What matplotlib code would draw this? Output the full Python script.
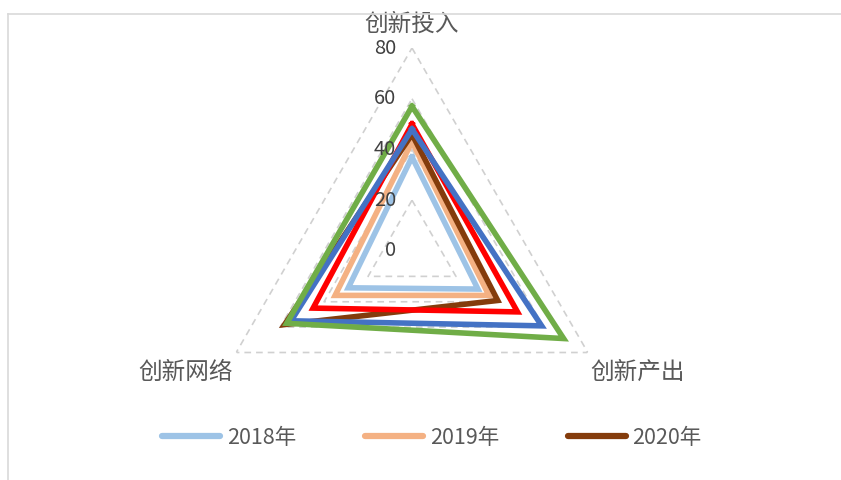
import numpy as np
import matplotlib.pyplot as plt
from matplotlib.lines import Line2D
from matplotlib import transforms

plt.rcParams['font.family'] = ['Noto Sans CJK SC', 'DejaVu Sans']

# 数据
categories = ['创新投入', '创新产出', '创新网络']
years = ['2018年', '2019年', '2020年', '2021年', '2022年', '2023年']
v2018 = [37, 30, 29]
v2019 = [43, 35, 35]
v2020 = [46, 39, 58]
v2021 = [50, 48, 45]
v2022 = [48, 59, 55]
v2023 = [57, 69, 57]
values = [v2018, v2019, v2020, v2021, v2022, v2023]
colors = ['#9DC3E6', '#F4B183', '#843C0C', '#FF0000', '#4472C4', '#70AD47']
grid_levels = [20, 40, 60, 80]
tick_levels = [0, 20, 40, 60, 80]

txt = '#595959'
W, H = 841, 480
fig = plt.figure(figsize=(W / 100, H / 100), dpi=100)

# 外框（被截掉一部分的图表区）
fig.add_artist(Line2D([8 / W, 1], [1 - 14 / H, 1 - 14 / H], color='#D9D9D9', lw=1.2))
fig.add_artist(Line2D([8 / W, 8 / W], [0, 1 - 14 / H], color='#D9D9D9', lw=1.2))

cx, cy, R = 412, 251, 203
ax = fig.add_axes([(cx - R) / W, (H - cy - R) / H, 2 * R / W, 2 * R / H], projection='polar')
ax.set_theta_offset(np.pi / 2)
ax.set_theta_direction(-1)
ax.set_ylim(0, 80)
ax.grid(False)
ax.spines['polar'].set_visible(False)
ax.set_xticks([])
ax.set_yticks([])
ax.patch.set_alpha(0)

angles = np.linspace(0, 2 * np.pi, len(categories), endpoint=False)
ang_closed = np.append(angles, angles[0])

# 网格三角形
for g in grid_levels:
    ax.plot(ang_closed, [g] * (len(categories) + 1), color='#D0D0D0', lw=1.2,
            ls=(0, (4, 3)), zorder=1)

# 数据线
for name, vals, c in zip(years, values, colors):
    ax.plot(ang_closed, vals + vals[:1], color=c, lw=4.0, label=name,
            solid_joinstyle='miter', zorder=3)

# 刻度标签
for t in tick_levels:
    tr = transforms.offset_copy(ax.transData, fig=fig, x=-16, y=0, units='dots')
    ax.text(0, t, str(t), transform=tr, ha='right', va='center', fontsize=14.5,
            color='#404040', zorder=4)

# 类别标签
offs = [(0, 12, 'center', 'bottom'), (3, -8, 'left', 'top'), (-3, -8, 'right', 'top')]
for a, lab, (dx, dy, ha, va) in zip(angles, categories, offs):
    tr = transforms.offset_copy(ax.transData, fig=fig, x=dx, y=dy, units='dots')
    ax.text(a, 80, lab, transform=tr, ha=ha, va=va, fontsize=17, color=txt)

# 图例（只显示前三项）
handles = [Line2D([], [], color=c, lw=4.5, solid_capstyle='round') for c in colors[:3]]
leg = fig.legend(handles, years[:3], loc='center', bbox_to_anchor=(432 / W, 1 - 438 / H),
                 ncol=3, frameon=False, fontsize=15.5, handlelength=2.7,
                 handletextpad=0.3, columnspacing=3.2)
for t in leg.get_texts():
    t.set_color(txt)

fig.savefig('out.png', dpi=100)
